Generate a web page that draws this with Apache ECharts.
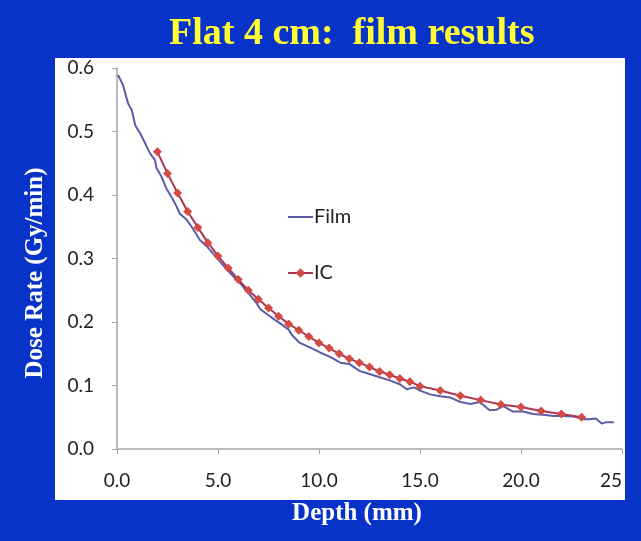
<!DOCTYPE html>
<html>
<head>
<meta charset="utf-8">
<script src="https://cdn.jsdelivr.net/npm/echarts@6/dist/echarts.min.js"></script>
<style>
  html, body { margin: 0; padding: 0; background: #0833c9; }
  #main { width: 641px; height: 541px; }
</style>
</head>
<body>
<div id="main"></div>
<script>
// film measurement (depth mm, dose rate Gy/min)
var filmDepth = [0.05, 0.3, 0.55, 0.73, 0.9, 1.15, 1.4, 1.63, 1.88, 1.96, 2.2, 2.45, 2.7, 2.95, 3.1, 3.45, 3.8, 4.1, 4.45, 4.8,
    5.1, 5.6, 6.1, 6.6, 6.9, 7.1, 7.4, 7.75, 8.2, 8.5, 8.65, 9.05, 9.55, 10.05, 10.55, 11.05, 11.5, 12.0, 12.5, 13.0,
    13.5, 14.0, 14.35, 14.7, 15.0, 15.5, 16.0, 16.5, 17.0, 17.5, 17.95, 18.45, 18.8, 19.1, 19.6, 20.1, 20.6, 21.1, 21.6, 22.1,
    22.6, 23.1, 23.4, 23.7, 24.0, 24.2, 24.6];
var filmDose = [0.589, 0.573, 0.544, 0.534, 0.510, 0.497, 0.481, 0.466, 0.455, 0.442, 0.429, 0.410, 0.397, 0.382, 0.371, 0.361, 0.345, 0.329, 0.319, 0.306,
    0.295, 0.277, 0.261, 0.242, 0.230, 0.220, 0.213, 0.205, 0.195, 0.188, 0.180, 0.167, 0.160, 0.152, 0.145, 0.136, 0.134, 0.123, 0.118, 0.113,
    0.108, 0.102, 0.094, 0.097, 0.092, 0.086, 0.083, 0.081, 0.074, 0.071, 0.074, 0.061, 0.062, 0.068, 0.059, 0.059, 0.055, 0.054, 0.052, 0.052,
    0.051, 0.047, 0.047, 0.048, 0.040, 0.042, 0.042];

// ion chamber points
var icDepth = [2.0, 2.5, 3.0, 3.5, 4.0, 4.5, 5.0, 5.5, 6.0, 6.5, 7.0, 7.5, 8.0, 8.5, 9.0, 9.5, 10.0, 10.5, 11.0, 11.5,
    12.0, 12.5, 13.0, 13.5, 14.0, 14.5, 15.0, 16.0, 17.0, 18.0, 19.0, 20.0, 21.0, 22.0, 23.0];
var icDose = [0.468, 0.434, 0.403, 0.374, 0.349, 0.325, 0.304, 0.285, 0.267, 0.250, 0.236, 0.222, 0.209, 0.197, 0.187, 0.177, 0.167, 0.159, 0.150, 0.142,
    0.136, 0.129, 0.122, 0.117, 0.111, 0.106, 0.099, 0.092, 0.084, 0.077, 0.070, 0.066, 0.060, 0.055, 0.050];

function pairs(xs, ys) {
    var out = [];
    for (var i = 0; i < xs.length; i++) {
        out.push([xs[i], ys[i]]);
    }
    return out;
}

var tickFont = 'Lato';

var option = {
    backgroundColor: '#0833c9',
    animation: false,
    title: {
        text: 'Flat 4 cm:  film results',
        left: 164,
        top: 10,
        textStyle: {
            color: '#ffff33',
            fontFamily: 'Liberation Serif',
            fontWeight: 'bold',
            fontSize: 38
        }
    },
    graphic: [
        {
            type: 'rect',
            z: -10,
            shape: { x: 55, y: 58, width: 570, height: 442 },
            style: { fill: '#ffffff' }
        },
        {
            type: 'text',
            x: 36, y: 273,
            rotation: Math.PI / 2,
            style: {
                text: 'Dose Rate (Gy/min)',
                fill: '#ffffff',
                font: 'bold 25px "Liberation Serif"',
                align: 'center',
                verticalAlign: 'middle'
            }
        },
        {
            type: 'text',
            x: 357, y: 514,
            style: {
                text: 'Depth (mm)',
                fill: '#ffffff',
                font: 'bold 25px "Liberation Serif"',
                align: 'center',
                verticalAlign: 'middle'
            }
        }
    ],
    legend: {
        orient: 'vertical',
        left: 282,
        top: 202,
        itemGap: 36,
        itemWidth: 25,
        itemHeight: 12,
        textStyle: {
            color: '#222',
            fontFamily: tickFont,
            fontSize: 20,
            padding: [0, 0, 0, -4]
        },
        data: [
            { name: 'Film', itemStyle: { color: 'rgba(0,0,0,0)', borderWidth: 0 } },
            'IC'
        ]
    },
    grid: {
        left: 117,
        right: 19,
        top: 68,
        bottom: 92
    },
    xAxis: {
        type: 'value',
        min: 0,
        max: 25,
        interval: 5,
        axisLine: { lineStyle: { color: '#a6a6a6', width: 1.5 } },
        axisTick: { show: true, length: 5, lineStyle: { color: '#a6a6a6' } },
        splitLine: { show: false },
        axisLabel: {
            margin: 22,
            color: '#222',
            fontFamily: tickFont,
            fontSize: 19,
            alignMaxLabel: 'right',
            formatter: function (v) {
                return v === 25 ? '25' : v.toFixed(1);
            }
        }
    },
    yAxis: {
        type: 'value',
        min: 0,
        max: 0.6,
        interval: 0.1,
        axisLine: { show: true, lineStyle: { color: '#a6a6a6', width: 1.5 } },
        axisTick: { show: true, length: 5, lineStyle: { color: '#a6a6a6' } },
        splitLine: { show: false },
        axisLabel: {
            margin: 23,
            color: '#222',
            fontFamily: tickFont,
            fontSize: 19,
            formatter: function (v) {
                return v.toFixed(1);
            }
        }
    },
    series: [
        {
            name: 'Film',
            type: 'line',
            symbol: 'none',
            smooth: false,
            lineStyle: { color: '#5b5ca8', width: 2 },
            itemStyle: { color: '#5b5ca8' },
            data: pairs(filmDepth, filmDose)
        },
        {
            name: 'IC',
            type: 'line',
            symbol: 'diamond',
            symbolSize: 9,
            lineStyle: { color: '#ad3550', width: 2 },
            itemStyle: { color: '#d44a44' },
            data: pairs(icDepth, icDose)
        }
    ]
};

var chart = echarts.init(document.getElementById('main'));
chart.setOption(option);
</script>
</body>
</html>
